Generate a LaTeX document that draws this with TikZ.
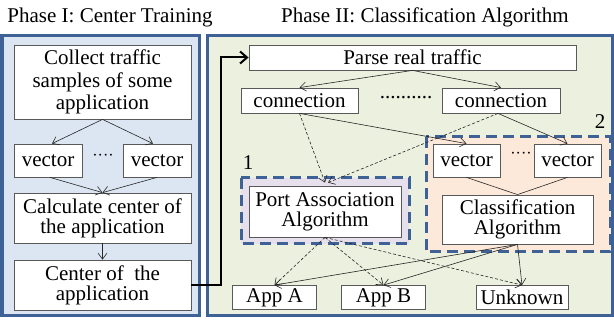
\documentclass[tikz,border=0pt]{standalone}
\usepackage{fontspec}
\setmainfont{Liberation Serif}
\usetikzlibrary{arrows.meta,calc}
\definecolor{pblue}{HTML}{3E6296}
\definecolor{lfill}{HTML}{DCE6F2}
\definecolor{rfill}{HTML}{EBF1DE}
\definecolor{peach}{HTML}{FDE9D9}
\definecolor{lav}{HTML}{E6E0EC}
\definecolor{boxgray}{HTML}{595959}
\begin{document}
\begin{tikzpicture}[x=1pt,y=-1pt,
  box/.style={draw=boxgray, fill=white, line width=0.8pt, inner sep=0pt, align=center, font=\fontsize{21}{20}\selectfont},
  txt/.style={inner sep=0pt, font=\fontsize{21}{20}\selectfont},
  panel/.style={draw=pblue, line width=3pt},
  grp/.style={draw=pblue, line width=3pt, dash pattern=on 11pt off 6pt},
  arr/.style={-{Straight Barb[length=6pt,width=9pt,line width=0.6pt]}, line width=0.6pt, draw=black!85},
  dsh/.style={arr, dash pattern=on 3pt off 2pt},
  ln/.style={line width=0.6pt, draw=black!85}]
\useasboundingbox (0,0) rectangle (614,320);
% panels
\draw[panel, fill=lfill] (2,36) rectangle (199,316);
\draw[panel, fill=rfill] (207,36) rectangle (612,316);
\node[txt, anchor=base] (h1) at (110,23) {Phase I: Center Training};
\node[txt, anchor=base] (h2) at (425,23) {Phase II: Classification Algorithm};
% group boxes
\draw[grp, fill=peach] (426,137) rectangle (610,252);
\draw[grp, fill=lav] (241,178) rectangle (409,244);
\node[txt] (l2) at (600,122) {2};
\node[txt] (l1) at (248,163) {1};
% left panel
\node[box, minimum width=177pt, minimum height=74pt, font=\fontsize{21}{22.5}\selectfont] (collect) at (102.5,82) {Collect traffic\\samples of some\\application};
\node[box, minimum width=68pt, minimum height=33pt] (vl1) at (48,160.5) {vector};
\node[box, minimum width=68pt, minimum height=33pt] (vr1) at (157,160.5) {vector};
\node[txt, font=\fontsize{16}{16}\selectfont] (d1) at (103,157) {····};
\node[box, minimum width=177pt, minimum height=50pt] (calc) at (102.5,218) {Calculate center of\\the application};
\node[box, minimum width=177pt, minimum height=50pt] (cent) at (102.5,285) {Center of~ the\\application};
% right panel
\node[box, minimum width=327pt, minimum height=25pt] (parse) at (412.5,57.5) {Parse real traffic};
\node[box, minimum width=117pt, minimum height=25pt] (cl) at (299.5,100.5) {connection};
\node[box, minimum width=118pt, minimum height=25pt] (cr) at (501,100.5) {connection};
\node[txt] (d2) at (406,98) {..........};
\node[box, minimum width=67pt, minimum height=33pt] (v2l) at (466.5,160.5) {vector};
\node[box, minimum width=67pt, minimum height=33pt] (v2r) at (567.5,160.5) {vector};
\node[txt, font=\fontsize{16}{16}\selectfont] (d3) at (521,155) {····};
\node[box, minimum width=151pt, minimum height=49pt] (cls) at (517.5,219.5) {Classification\\Algorithm};
\node[box, minimum width=152pt, minimum height=51pt] (port) at (325,211.5) {Port Association\\Algorithm};
\node[box, minimum width=84pt, minimum height=24pt] (appa) at (274.5,297.5) {App A};
\node[box, minimum width=84pt, minimum height=24pt] (appb) at (383.5,297.5) {App B};
\node[box, minimum width=92pt, minimum height=24pt] (unk) at (522,297.5) {Unknown};
% left connectors
\draw[arr] (collect.south) -- ($(vl1.north)+(4,0)$);
\draw[arr] (collect.south) -- ($(vr1.north)+(-4,0)$);
\draw[arr] ($(vl1.south)+(2,0)$) -- (calc.north);
\draw[arr] (vr1.south) -- (calc.north);
\draw[arr] (calc.south) -- (cent.north);
% thick link
\draw[line width=2pt, -{Straight Barb[length=7pt,width=12pt,line width=2pt]}] (cent.east) -- ++(30,0) |- (parse.west);
% right connectors
\draw[arr] (parse.south) -- (cl.north);
\draw[arr] (parse.south) -- (cr.north);
\draw[arr] (cl.south) -- (v2l.north);
\draw[arr] ($(cr.south)+(-3,0)$) -- (v2r.north);
\draw[dsh] (cl.south) -- ($(port.north)+(0,-3)$);
\draw[dsh] ($(cr.south)+(-3,0)$) -- ($(port.north)+(3,-3)$);
\draw[ln] (v2l.south) -- (cls.north);
\draw[ln] (v2r.south) -- (cls.north);
\draw[dsh] (port.south) -- (appa.north);
\draw[dsh] (port.south) -- (appb.north);
\draw[dsh] (port.south) -- (unk.north);
\draw[arr] (cls.south) -- (appa.north);
\draw[arr] (cls.south) -- (appb.north);
\draw[arr] (cls.south) -- (unk.north);
\end{tikzpicture}
\end{document}
